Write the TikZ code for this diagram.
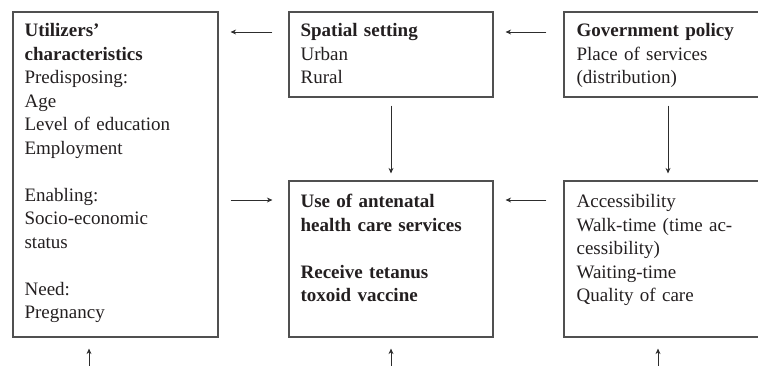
\documentclass[tikz,border=0pt]{standalone}
\usepackage{fontspec}
\setmainfont{Liberation Serif}
\usepackage{tikz}
\usetikzlibrary{arrows.meta}
\definecolor{boxline}{RGB}{80, 80, 80}
\definecolor{linkline}{RGB}{45, 45, 45}
\definecolor{inktext}{RGB}{35, 31, 32}

\begin{document}
\begin{tikzpicture}[x=1pt, y=-1pt,
    frame/.style={draw=boxline, line width=1.2pt, inner sep=0pt},
    txt/.style={anchor=north west, inner sep=0pt, align=left, text=inktext,
      font=\fontsize{19}{23.5}\selectfont},
    link/.style={linkline, line width=1pt, -{Stealth[length=5.5pt, width=5pt]}}]
      \useasboundingbox (0,0) rectangle (758,365);
      \clip (0,0) rectangle (758,365);
      % boxes
      \node[frame, minimum width=205pt, minimum height=325pt] (util) at (115.5,174.5) {};
      \node[frame, minimum width=204pt, minimum height=85pt] (spatial) at (391,54.5) {};
      \node[frame, minimum width=208pt, minimum height=85pt] (govt) at (668,54.5) {};
      \node[frame, minimum width=204pt, minimum height=156pt] (use) at (391,259) {};
      \node[frame, minimum width=208pt, minimum height=156pt] (access) at (668,259) {};
      % texts
      \node[txt, text width=182pt] (utiltext) at ([xshift=12pt, yshift=-12pt]util.north west)
        {\textbf{Utilizers'}\\ \textbf{characteristics}\\ Predisposing:\\ Age\\
         Level of education\\ Employment\\[23.5pt] Enabling:\\ Socio-economic\\
         status\\[23.5pt] Need:\\ Pregnancy};
      \node[txt, text width=182pt] (spatialtext) at ([xshift=12pt, yshift=-12pt]spatial.north west)
        {\textbf{Spatial setting}\\ Urban\\ Rural};
      \node[txt, text width=182pt] (govttext) at ([xshift=13pt, yshift=-12pt]govt.north west)
        {\textbf{Government policy}\\ Place of services\\ (distribution)};
      \node[txt, text width=182pt] (usetext) at ([xshift=12pt, yshift=-14pt]use.north west)
        {\textbf{Use of antenatal}\\ \textbf{health care services}\\[23.5pt]
         \textbf{Receive tetanus}\\ \textbf{toxoid vaccine}};
      \node[txt, text width=182pt] (accesstext) at ([xshift=13pt, yshift=-14pt]access.north west)
        {Accessibility\\ Walk-time (time ac-\\ cessibility)\\ Waiting-time\\ Quality of care};
      % horizontal links
      \coordinate (rowtop) at (0,32);
      \coordinate (rowmid) at (0,200);
      \draw[link, shorten <=16pt, shorten >=12pt] (spatial.west |- rowtop) -- (util.east |- rowtop);
      \draw[link, shorten <=17pt, shorten >=12pt] (govt.west |- rowtop) -- (spatial.east |- rowtop);
      \draw[link, shorten <=12pt, shorten >=16pt] (util.east |- rowmid) -- (use.west |- rowmid);
      \draw[link, shorten <=17pt, shorten >=12pt] (access.west |- rowmid) -- (use.east |- rowmid);
      % vertical links
      \draw[link, shorten <=8pt, shorten >=7pt] (spatial) -- (use);
      \draw[link, shorten <=8pt, shorten >=7pt] (govt) -- (access);
      % feedback from below
      \coordinate (feedA) at (89,366);
      \coordinate (feedB) at (391,366);
      \coordinate (feedC) at (658,366);
      \draw[link, shorten >=11pt] (feedA) -- (util.south -| feedA);
      \draw[link, shorten >=11pt] (feedB) -- (use.south -| feedB);
      \draw[link, shorten >=11pt] (feedC) -- (access.south -| feedC);
    \end{tikzpicture}
\end{document}
